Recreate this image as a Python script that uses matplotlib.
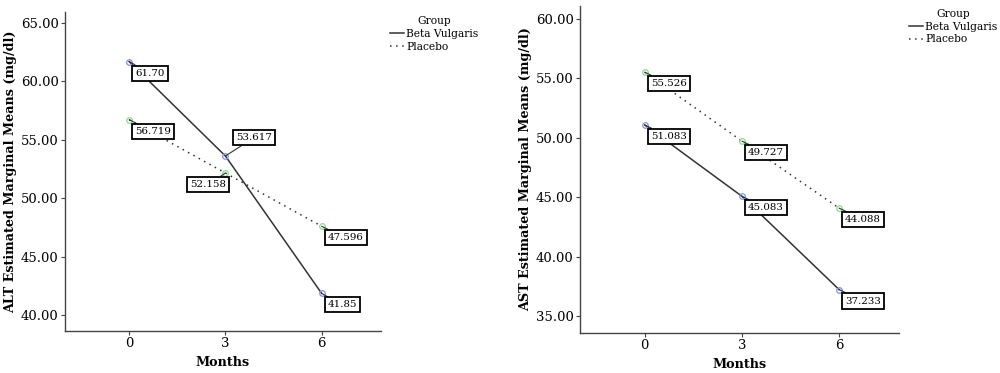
import matplotlib
matplotlib.use("Agg")
import matplotlib.pyplot as plt

months = [0, 3, 6]
groups = ["Beta Vulgaris", "Placebo"]

alt_beta = [61.70, 53.617, 41.85]
alt_placebo = [56.719, 52.158, 47.596]
alt_beta_labels = ["61.70", "53.617", "41.85"]
alt_placebo_labels = ["56.719", "52.158", "47.596"]

ast_beta = [51.083, 45.083, 37.233]
ast_placebo = [55.526, 49.727, 44.088]
ast_beta_labels = ["51.083", "45.083", "37.233"]
ast_placebo_labels = ["55.526", "49.727", "44.088"]

alt_yticks = [40, 45, 50, 55, 60, 65]
ast_yticks = [35, 40, 45, 50, 55, 60]

plt.rcParams['font.family'] = ['DejaVu Serif']

line_col = "#333333"
beta_mk = "#7f95e0"
plac_mk = "#8cdc8c"

# label placement: (dx px, dy px, ha, va) relative to the point
default_off = (6, -7, "left", "top")
alt_beta_off = [default_off, (11, 14, "left", "bottom"), default_off]
alt_placebo_off = [default_off, (1, -7, "right", "top"), default_off]
ast_beta_off = [default_off, default_off, default_off]
ast_placebo_off = [default_off, default_off, default_off]


def draw_panel(ax, beta, placebo, beta_lab, placebo_lab, beta_off, placebo_off,
               yticks, ylim, ylabel):
    ax.plot(months, beta, color=line_col, lw=1.1, ls="-", label=groups[0])
    ax.plot(months, placebo, color=line_col, lw=1.1, ls=(0, (1, 3)), label=groups[1])
    ax.plot(months, beta, ls="none", marker="o", ms=4, mfc="none", mec=beta_mk, mew=0.9)
    ax.plot(months, placebo, ls="none", marker="o", ms=4, mfc="none", mec=plac_mk, mew=0.9)
    for vals, labs, offs in [(beta, beta_lab, beta_off), (placebo, placebo_lab, placebo_off)]:
        for x, y, t, (dx, dy, ha, va) in zip(months, vals, labs, offs):
            ax.annotate(t, xy=(x, y), xytext=(dx, dy), textcoords="offset pixels",
                        ha=ha, va=va, fontsize=7.4,
                        bbox=dict(boxstyle="square,pad=0.3", fc="white", ec="black", lw=1.3),
                        arrowprops=dict(arrowstyle="-", color=line_col, lw=0.8,
                                        shrinkA=0, shrinkB=0))
    ax.set_xlim(-2, 7.85)
    ax.set_ylim(*ylim)
    ax.set_xticks(months)
    ax.set_yticks(yticks)
    ax.set_yticklabels(["%.2f" % v for v in yticks])
    ax.tick_params(axis="both", labelsize=9.5, length=3, width=0.8, color="#444444", pad=1.5)
    for s in ["top", "right"]:
        ax.spines[s].set_visible(False)
    for s in ["left", "bottom"]:
        ax.spines[s].set_color("#444444")
        ax.spines[s].set_linewidth(1.0)
    ax.set_xlabel("Months", fontsize=9.2, fontweight="bold", labelpad=4)
    ax.set_ylabel(ylabel, fontsize=9.2, fontweight="bold", labelpad=3)


fig = plt.figure(figsize=(10, 3.73), dpi=100)
ax1 = fig.add_axes([0.065, 0.1126, 0.316, 0.855])
ax2 = fig.add_axes([0.58, 0.107, 0.319, 0.877])

draw_panel(ax1, alt_beta, alt_placebo, alt_beta_labels, alt_placebo_labels,
           alt_beta_off, alt_placebo_off, alt_yticks, (38.63, 65.94),
           "ALT Estimated Marginal Means (mg/dl)")
draw_panel(ax2, ast_beta, ast_placebo, ast_beta_labels, ast_placebo_labels,
           ast_beta_off, ast_placebo_off, ast_yticks, (33.57, 61.1),
           "AST Estimated Marginal Means (mg/dl)")

for ax, anchor in [(ax1, (0.386, 0.968)), (ax2, (0.905, 0.987))]:
    h, l = ax.get_legend_handles_labels()
    leg = fig.legend(h[:2], l[:2], title="Group", loc="upper left", bbox_to_anchor=anchor,
                     frameon=False, fontsize=7.7, title_fontsize=7.7, handlelength=1.3,
                     handletextpad=0.2, labelspacing=0.25, borderaxespad=0)

fig.savefig("out.png", dpi=100)
